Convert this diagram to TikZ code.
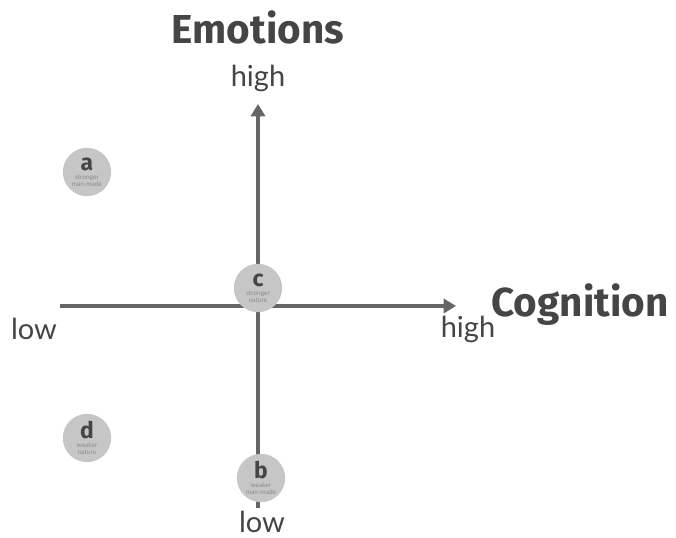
\documentclass[tikz,border=0pt]{standalone}
\usepackage{fontspec}
\setmainfont{Lato}
\newfontfamily\titlefont{Fira Sans}
\usepackage{tikz}
\usetikzlibrary{positioning}
\usetikzlibrary{arrows.meta}

\definecolor{axisgray}{HTML}{666666}
\definecolor{dotgray}{HTML}{C6C6C6}
\definecolor{inkgray}{HTML}{454545}
\definecolor{notegray}{HTML}{8A8A8A}

\tikzset{
  axis/.style={line width=2pt, draw=axisgray, -{Triangle[length=7pt,width=8pt]}},
  bubble/.style={circle, fill=dotgray, minimum size=27.5pt, inner sep=0pt, align=center,
    text=notegray, font=\fontsize{3.7}{4.1}\selectfont},
  tick/.style={text=inkgray, font=\fontsize{16.5}{18}\selectfont},
  heading/.style={text=inkgray, font=\titlefont\bfseries\fontsize{23}{26}\selectfont},
}

\newcommand{\dotlabel}[3]{{\color{inkgray}\titlefont\bfseries\fontsize{13}{13}\selectfont #1}\\[1pt]#2\\#3}

\begin{document}
\begin{tikzpicture}[x=0.2mm, y=-0.2mm]
    \useasboundingbox (0,0) rectangle (676,538);

    % axes
    \coordinate (origin) at (258,306);
    \coordinate (ybot) at (258,508);
    \coordinate (ytop) at (258,104);
    \coordinate (xleft) at (60,306);
    \coordinate (xright) at (456,306);
    \draw[axis] (ybot) -- (ytop);
    \draw[axis] (xleft) -- (xright);

    % axis labels
    \node[tick] (emohigh) at (258,78) {high};
    \node[tick] (emolow) at (262,522) {low};
    \node[tick] (coglow) at (34,329) {low};
    \node[tick] (coghigh) at (468,329) {high};
    \node[heading] (emotions) at (258,27) {Emotions};
    \node[heading] (cognition) at (580,305) {Cognition};

    % quadrant points
    \node[bubble] (a) at (87,172) {\dotlabel{a}{stronger}{man-made}};
    \node[bubble] (c) at (258,288) {\dotlabel{c}{stronger}{nature}};
    \node[bubble] (d) at (87,438) {\dotlabel{d}{weaker}{nature}};
    \node[bubble] (b) at (261,478) {\dotlabel{b}{weaker}{man-made}};
\end{tikzpicture}
\end{document}
